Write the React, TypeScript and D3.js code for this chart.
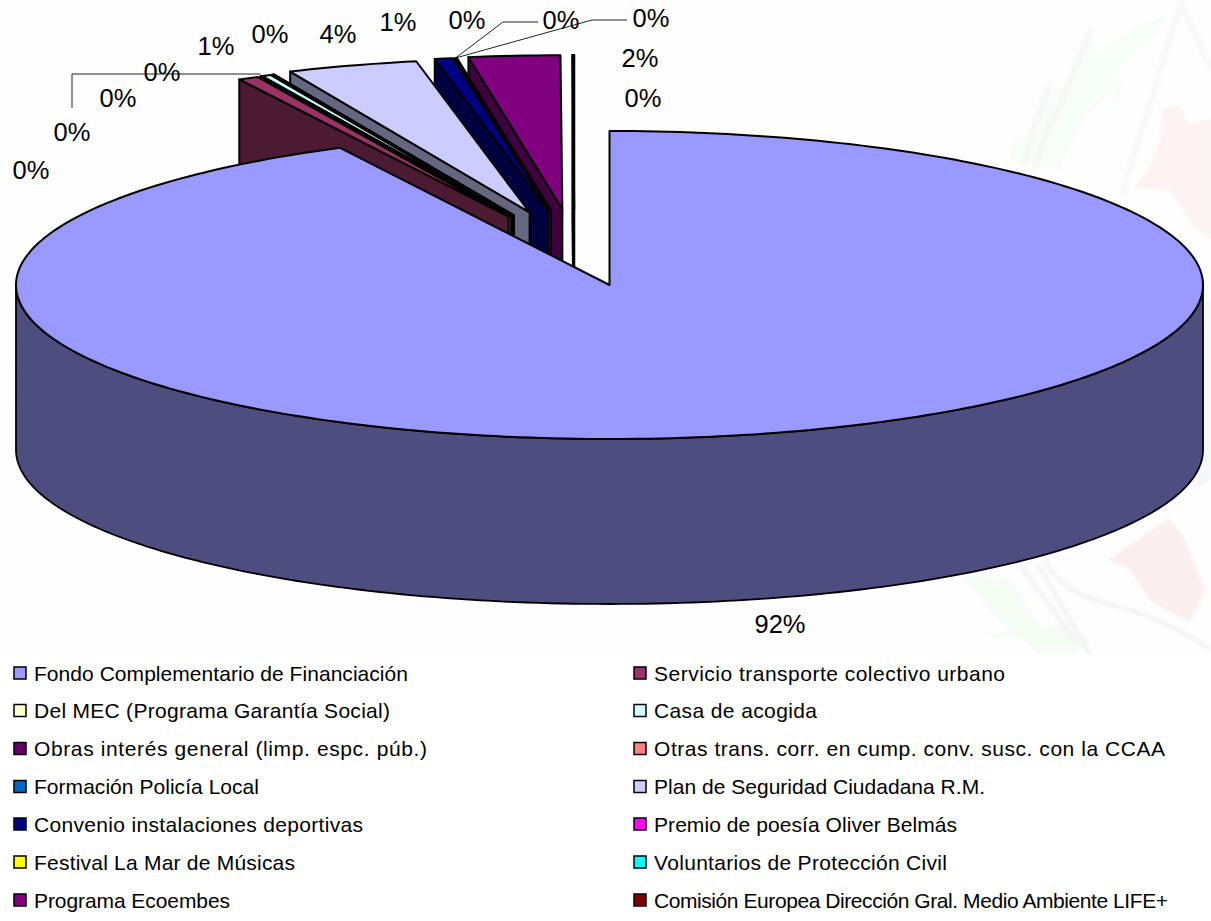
import React from "react";
import * as d3 from "d3";

const categories = [
  "Fondo Complementario de Financiación",
  "Servicio transporte colectivo urbano",
  "Del MEC (Programa Garantía Social)",
  "Casa de acogida",
  "Obras interés general (limp. espc. púb.)",
  "Otras trans. corr. en cump. conv. susc. con la CCAA",
  "Formación Policía Local",
  "Plan de Seguridad Ciudadana R.M.",
  "Convenio instalaciones deportivas",
  "Premio de poesía Oliver Belmás",
  "Festival La Mar de Músicas",
  "Voluntarios de Protección Civil",
  "Programa Ecoembes",
  "Comisión Europea Dirección Gral. Medio Ambiente LIFE+",
];
const shares = [92.5, 0.55, 0.03, 0.25, 0.02, 0.02, 0.02, 3.55, 0.5, 0.01, 0.01, 0.01, 2.48, 0.05];
const shareLabels = ["92%", "0%", "0%", "0%", "0%", "1%", "0%", "4%", "1%", "0%", "0%", "0%", "2%", "0%"];
const colors = ["#9999FF", "#993366", "#FFFFCC", "#CCFFFF", "#660066", "#FF8080", "#0066CC", "#CCCCFF", "#000080", "#FF00FF", "#FFFF00", "#00FFFF", "#800080", "#800000"];

// layout
const cx = 609.5, cy = 284, rx = 593.5, ry = 154, depth = 165;
const explodeX = 150, explodeY = 75, shiftX = 35;
const labelPos: [number, number][] = [
  [780, 624], [31, 170], [72, 132], [118, 98], [162, 72], [216, 46], [270, 34],
  [338, 34], [398, 22], [467, 20], [561, 20], [651, 18], [640, 58], [643, 98],
];
const legendX = [14, 634];
const legendY = [673, 710.5, 748.5, 786.5, 824, 862, 900];
const legendTextWidth = [374, 351, 356, 163, 393, 511, 225, 331, 329, 303, 261, 293, 196, 514];

const arcs = d3.pie<number>().sort(null).startAngle(0).endAngle(2 * Math.PI)(shares);
const line = d3.line<[number, number]>();

function apex(i: number): [number, number] {
  if (i === 0) return [cx, cy + 1];
  const a = arcs[i];
  const mid = (a.startAngle + a.endAngle) / 2;
  return [cx + explodeX * Math.sin(mid) - shiftX, cy - explodeY * Math.cos(mid)];
}
function rim(o: [number, number], a: number, dy = 0): [number, number] {
  return [o[0] + rx * Math.sin(a), o[1] - ry * Math.cos(a) + dy];
}
function rimPts(o: [number, number], a0: number, a1: number, dy = 0) {
  const n = Math.max(2, Math.ceil(Math.abs(a1 - a0) / 0.02));
  return d3.range(n + 1).map((k) => rim(o, a0 + ((a1 - a0) * k) / n, dy));
}
function topPath(i: number) {
  const o = apex(i);
  const a = arcs[i];
  return line([o, ...rimPts(o, a.startAngle, a.endAngle)]) + "Z";
}
function leftWall(i: number) {
  const o = apex(i);
  const p = rim(o, arcs[i].startAngle);
  return line([o, p, [p[0], p[1] + depth], [o[0], o[1] + depth]]) + "Z";
}
function mainWall() {
  const o = apex(0);
  const upper = rimPts(o, Math.PI / 2, (3 * Math.PI) / 2);
  const lower = rimPts(o, (3 * Math.PI) / 2, Math.PI / 2, depth);
  return line([...upper, ...lower]) + "Z";
}
const dark = (c: string) => {
  const r = d3.rgb(c);
  return d3.rgb(r.r / 2, r.g / 2, r.b / 2).formatHex();
};
const midAngle = (i: number) => (arcs[i].startAngle + arcs[i].endAngle) / 2;

const small = d3.range(1, shares.length).reverse();
const a1 = rim(apex(2), midAngle(2));
const a2 = rim(apex(9), midAngle(9));

export default function App() {
  return (
    <svg width={1211} height={921} style={{ position: "absolute", left: 0, top: 0, background: "#fff" }} fontFamily="'Liberation Sans', Arial, sans-serif">
      <defs>
        <clipPath id="wm"><rect x={0} y={0} width={1211} height={654} /></clipPath>
        <filter id="soft"><feGaussianBlur stdDeviation="1.5" /></filter>
      </defs>
      <rect width={1211} height={654} fill="#fefefe" />
      <g clipPath="url(#wm)" filter="url(#soft)">
        <path d="M1168 15 C1130 30 1105 45 1095 60 L1092 27 C1080 55 1075 70 1068 88 L1050 82 C1040 110 1035 125 1030 145 L1015 128 L1008 162 L1060 170 C1075 120 1100 105 1120 78 L1108 120 C1120 100 1122 90 1120 78 L1100 90 C1130 60 1155 40 1168 15Z" fill="#f7fdf7" />
        <path d="M1092 27 C1080 55 1070 75 1060 105 C1050 125 1040 145 1036 168 M1050 82 C1040 110 1030 130 1025 165" fill="none" stroke="#f7f7f7" strokeWidth={5} />
        <path d="M1182 0 L1122 195 M1182 5 L1211 70" fill="none" stroke="#f8f8f8" strokeWidth={6} />
        <path d="M1162 110 L1178 105 L1190 125 L1211 118 L1211 240 L1192 225 L1180 205 L1170 190 L1135 188 L1150 165 L1160 140Z" fill="#fdf3f3" />
        <path d="M1108 560 L1130 545 L1170 518 L1185 540 L1205 590 L1190 622 L1165 610 L1150 600 L1130 570Z" fill="#fbeeee" />
        <path d="M960 575 L1010 580 L1050 640 L980 635 L1060 625 L1090 640 L1075 654 L1040 654 L1000 620Z" fill="#f4fcf4" />
        <path d="M1045 560 C1060 590 1090 600 1130 610 C1160 620 1190 635 1211 650 M1020 565 L1075 640 M1038 565 L1090 654" fill="none" stroke="#f6f4f4" strokeWidth={5} />
        <path d="M1204 300 L1211 300 L1211 480 L1195 490Z" fill="#f6f7fa" />
      </g>

      {small.map((i) => (
        <g key={i} stroke="#000" strokeWidth={2} strokeLinejoin="round">
          <path d={leftWall(i)} fill={dark(colors[i])} />
          <path d={topPath(i)} fill={colors[i]} />
        </g>
      ))}

      <path d={mainWall()} fill={dark(colors[0])} stroke="#000" strokeWidth={1.8} />
      <path d={topPath(0)} fill={colors[0]} stroke="#000" strokeWidth={2} strokeLinejoin="round" />

      <g fill="none" stroke="#222" strokeWidth={1}>
        <path d={line([[72, 108], [72, 74], [a1[0], 74]])!} />
        <path d={line([a2, [503, 22], [538, 22]])!} />
        <path d={line([a2, [592, 20], [627, 20]])!} />
      </g>

      <g fontSize={25.5} fill="#000" textAnchor="middle" dominantBaseline="central">
        {shareLabels.map((s, i) => (
          <text key={i} x={labelPos[i][0]} y={labelPos[i][1]}>{s}</text>
        ))}
      </g>

      <g fontSize={21} fill="#000">
        {categories.map((c, i) => {
          const x = legendX[i % 2];
          const y = legendY[Math.floor(i / 2)];
          return (
            <g key={c}>
              <rect x={x} y={y - 6} width={12} height={12} fill={colors[i]} stroke="#000" strokeWidth={1.5} />
              <text x={x + 20} y={y} dominantBaseline="central" textLength={legendTextWidth[i]} lengthAdjust="spacing">{c}</text>
            </g>
          );
        })}
      </g>
    </svg>
  );
}
